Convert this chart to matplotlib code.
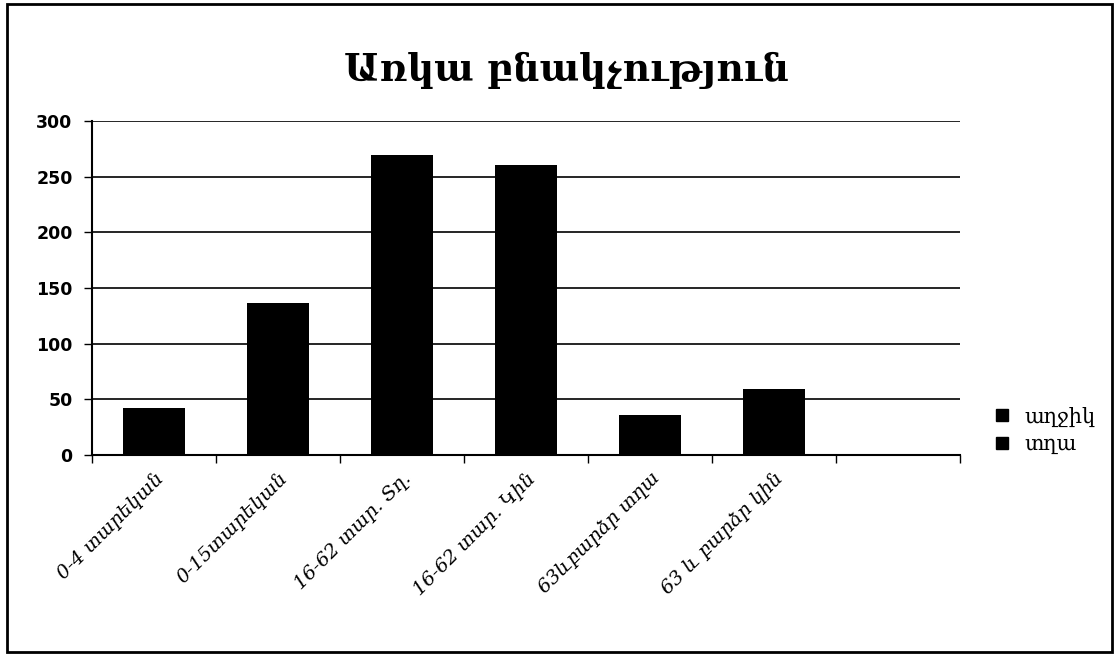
import matplotlib.pyplot as plt
from matplotlib.patches import Rectangle
from matplotlib.lines import Line2D

# Data
categories = ["0-4 տարեկան", "0-15տարեկան", "16-62 տար. Տղ.", "16-62 տար. Կին",
              "63ևբարձր տղա", "63 և բարձր կին", ""]
values = [42, 137, 270, 261, 36, 59, 0]
series_names = ["աղջիկ", "տղա"]
y_ticks = [0, 50, 100, 150, 200, 250, 300]

fig = plt.figure(figsize=(11.16, 6.55), dpi=100)
ax = fig.add_axes([0.0824, 0.3053, 0.7776, 0.5097])

x = list(range(len(categories)))
ax.bar(x, values, width=0.5, color="black", zorder=3)

ax.set_xlim(-0.5, len(categories) - 0.5)
ax.set_ylim(0, 300)
ax.set_yticks(y_ticks)
ax.set_yticklabels([str(v) for v in y_ticks], fontsize=12.5, fontweight="bold",
                   family="DejaVu Sans")
ax.yaxis.grid(True, color="black", linewidth=1.2, zorder=0)
ax.tick_params(axis="y", length=6, width=1, pad=8)

# category ticks between slots, labels at slot centres
ax.set_xticks([i - 0.5 for i in range(len(categories) + 1)])
ax.set_xticklabels([])
ax.set_xticks(x, minor=True)
ax.set_xticklabels(categories, minor=True, rotation=45, ha="right",
                   rotation_mode="anchor", fontsize=14, style="italic",
                   family="DejaVu Serif")
ax.tick_params(axis="x", which="major", length=6, width=1, direction="out")
ax.tick_params(axis="x", which="minor", length=0, pad=10)

for s in ["top", "right"]:
    ax.spines[s].set_visible(False)
ax.spines["left"].set_linewidth(1.5)
ax.spines["bottom"].set_linewidth(1.5)

fig.text(0.508, 0.893, "Առկա բնակչություն", ha="center", va="center",
         fontsize=27, fontweight="bold", family="DejaVu Serif")

handles = [Line2D([], [], marker="s", color="black", linestyle="none", markersize=9)
           for _ in series_names]
fig.legend(handles, series_names, loc="upper left", bbox_to_anchor=(0.862, 0.408),
           frameon=False, handletextpad=0.1, labelspacing=0.4,
           prop={"family": "DejaVu Serif", "size": 15})

fig.add_artist(Rectangle((0.006, 0.004), 0.99, 0.99, transform=fig.transFigure,
                         fill=False, edgecolor="black", linewidth=2))

fig.savefig("out.png", dpi=100)
